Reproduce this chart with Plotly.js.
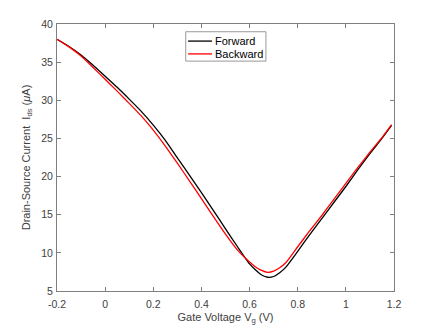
<!DOCTYPE html>
<html>
<head>
<meta charset="utf-8">
<script src="https://cdn.plot.ly/plotly-3.0.1.min.js"></script>
<style>
  html, body { margin: 0; padding: 0; background: #fff; }
  #chart { width: 436px; height: 327px; }
</style>
</head>
<body>
<div id="chart"></div>
<script>
// gate voltage sweep (V)
const vg = [-0.2, -0.15, -0.1, -0.05, 0, 0.05, 0.1, 0.15, 0.2, 0.25, 0.3, 0.35, 0.4, 0.45,
  0.5, 0.55, 0.6, 0.625, 0.65, 0.675, 0.7, 0.725, 0.75, 0.8, 0.85, 0.9, 0.95, 1.0,
  1.05, 1.1, 1.15, 1.19];
// drain-source current (uA)
const forward = [38.0, 37.05, 35.95, 34.6, 33.15, 31.7, 30.15, 28.55, 26.75, 24.75, 22.45, 20.2, 17.9, 15.55,
  13.15, 10.8, 8.55, 7.75, 7.1, 6.8, 6.9, 7.4, 8.1, 10.2, 12.4, 14.5, 16.6, 18.7,
  20.9, 23.0, 25.0, 26.7];
const backward = [38.0, 37.0, 35.8, 34.3, 32.75, 31.2, 29.6, 27.95, 26.1, 24.0, 21.75, 19.45, 17.1, 14.75,
  12.45, 10.35, 8.8, 8.15, 7.7, 7.45, 7.6, 8.05, 8.7, 10.8, 12.9, 14.9, 17.0, 19.1,
  21.2, 23.2, 25.1, 26.8];

const seriesNames = ["Forward", "Backward"];
const seriesColors = ["#000000", "#ff0000"];

const xTicks = [-0.2, 0, 0.2, 0.4, 0.6, 0.8, 1, 1.2];
const yTicks = [5, 10, 15, 20, 25, 30, 35, 40];

const axisGray = "#7f7f7f";
const textGray = "#404040";
const fontFamily = "Liberation Sans, Arial, sans-serif";

const data = [forward, backward].map((ys, i) => ({
  x: vg, y: ys, name: seriesNames[i], type: "scatter", mode: "lines",
  line: { color: seriesColors[i], width: 1.3, shape: "spline", smoothing: 0.5 },
}));

const axisCommon = {
  showgrid: false,
  zeroline: false,
  showline: true,
  linecolor: axisGray,
  linewidth: 1,
  mirror: "allticks",
  ticks: "inside",
  ticklen: 4,
  tickcolor: axisGray,
  tickfont: { family: fontFamily, size: 10.5, color: textGray },
};

// MATLAB-style compact legend box (plotly's own legend rows are too tall)
const legBox = { x0: 0.382, x1: 0.620, y0: 0.861, y1: 0.971 };
const legRows = [0.936, 0.888];
const shapes = [
  { type: "rect", xref: "paper", yref: "paper", x0: legBox.x0, x1: legBox.x1, y0: legBox.y0, y1: legBox.y1,
    line: { color: "#999999", width: 1 }, fillcolor: "#ffffff", layer: "above" },
];
const annotations = [];
seriesNames.forEach((name, i) => {
  shapes.push({ type: "line", xref: "paper", yref: "paper", x0: 0.389, x1: 0.460, y0: legRows[i], y1: legRows[i],
    line: { color: seriesColors[i], width: 1.3 }, layer: "above" });
  annotations.push({ xref: "paper", yref: "paper", x: 0.462, y: legRows[i], xanchor: "left", yanchor: "middle",
    text: name, showarrow: false, font: { family: fontFamily, size: 11, color: "#000000" } });
});

const layout = {
  width: 436,
  height: 327,
  margin: { l: 57, r: 42, t: 24, b: 36 },
  paper_bgcolor: "#ffffff",
  plot_bgcolor: "#ffffff",
  font: { family: fontFamily, color: textGray },
  showlegend: false,
  xaxis: Object.assign({}, axisCommon, {
    range: [-0.2, 1.2],
    tickvals: xTicks,
    ticktext: xTicks.map(String),
    ticklabelstandoff: 3,
    title: { text: "Gate Voltage V<sub>g</sub> (V)", font: { size: 11, color: textGray }, standoff: 4 },
  }),
  yaxis: Object.assign({}, axisCommon, {
    range: [5, 40],
    tickvals: yTicks,
    ticklabelstandoff: 1,
    title: { text: "Drain-Source Current  I<sub>ds</sub> (<i>μ</i>A)", font: { size: 11, color: textGray }, standoff: 8 },
  }),
  shapes: shapes,
  annotations: annotations,
};

Plotly.newPlot("chart", data, layout, { displayModeBar: false, staticPlot: true });
</script>
</body>
</html>
